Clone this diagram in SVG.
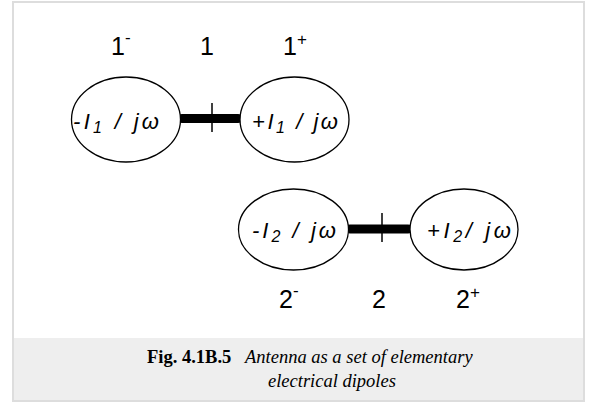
<svg xmlns="http://www.w3.org/2000/svg" width="591" height="403" viewBox="0 0 591 403">
<style>
.lbl{font-family:"Liberation Sans",Arial,sans-serif;font-size:25px;fill:#000}
.sup{font-size:17px}
.nt{font-family:"Liberation Sans",Arial,sans-serif;font-style:italic;font-size:22px;fill:#000}
.sub{font-size:16px}
.el{fill:#fff;stroke:#000;stroke-width:1.3}
.bar{stroke:#000;stroke-width:9;stroke-linecap:round}
.tick{stroke:#000;stroke-width:1.5}
.cap{font-family:"Liberation Serif","Times New Roman",serif;font-size:18.5px;fill:#000}
</style>
<rect x="0" y="0" width="591" height="403" fill="#fff"/>
<rect x="13" y="2" width="571" height="399" fill="#fff" stroke="#dddddd" stroke-width="2"/>
<rect x="14" y="338" width="569" height="62" fill="#eeeeee"/>
<g id="connectors">
<line class="bar" x1="182" y1="118.5" x2="238" y2="118.5"/>
<line class="tick" x1="212" y1="103" x2="212" y2="132"/>
<line class="bar" x1="350" y1="229" x2="408" y2="229"/>
<line class="tick" x1="382" y1="213" x2="382" y2="242"/>
</g>
<g id="labels1">
<text class="lbl" x="111" y="55">1<tspan class="sup" dy="-12">-</tspan></text>
<text class="lbl" x="200" y="55">1</text>
<text class="lbl" x="283" y="55">1<tspan class="sup" dy="-10">+</tspan></text>
</g>
<g id="node-q1minus">
<ellipse class="el" cx="126" cy="119.5" rx="54.5" ry="42.5"/>
<text class="nt" x="73" y="129" textLength="86" lengthAdjust="spacing">-I<tspan class="sub" dy="4">1</tspan><tspan dy="-4"> / jω</tspan></text>
</g>
<g id="node-q1plus">
<ellipse class="el" cx="294.5" cy="119.5" rx="54.5" ry="42.5"/>
<text class="nt" x="252" y="129" textLength="86" lengthAdjust="spacing">+I<tspan class="sub" dy="4">1</tspan><tspan dy="-4"> / jω</tspan></text>
</g>
<g id="node-q2minus">
<ellipse class="el" cx="293.5" cy="229.5" rx="55" ry="40.5"/>
<text class="nt" x="252" y="238" textLength="84" lengthAdjust="spacing">-I<tspan class="sub" dy="4">2</tspan><tspan dy="-4"> / jω</tspan></text>
</g>
<g id="node-q2plus">
<ellipse class="el" cx="464" cy="229.5" rx="54" ry="40.5"/>
<text class="nt" x="427" y="238" textLength="84" lengthAdjust="spacing">+I<tspan class="sub" dy="4">2</tspan><tspan dy="-4">/ jω</tspan></text>
</g>
<g id="labels2">
<text class="lbl" x="279" y="308">2<tspan class="sup" dy="-12">-</tspan></text>
<text class="lbl" x="372" y="308">2</text>
<text class="lbl" x="456" y="308">2<tspan class="sup" dy="-10">+</tspan></text>
</g>
<g id="caption">
<text class="cap" x="147" y="363"><tspan font-weight="bold">Fig. 4.1B.5</tspan><tspan font-style="italic" x="245">Antenna as a set of elementary</tspan></text>
<text class="cap" x="268" y="387" font-style="italic">electrical dipoles</text>
</g>
</svg>
